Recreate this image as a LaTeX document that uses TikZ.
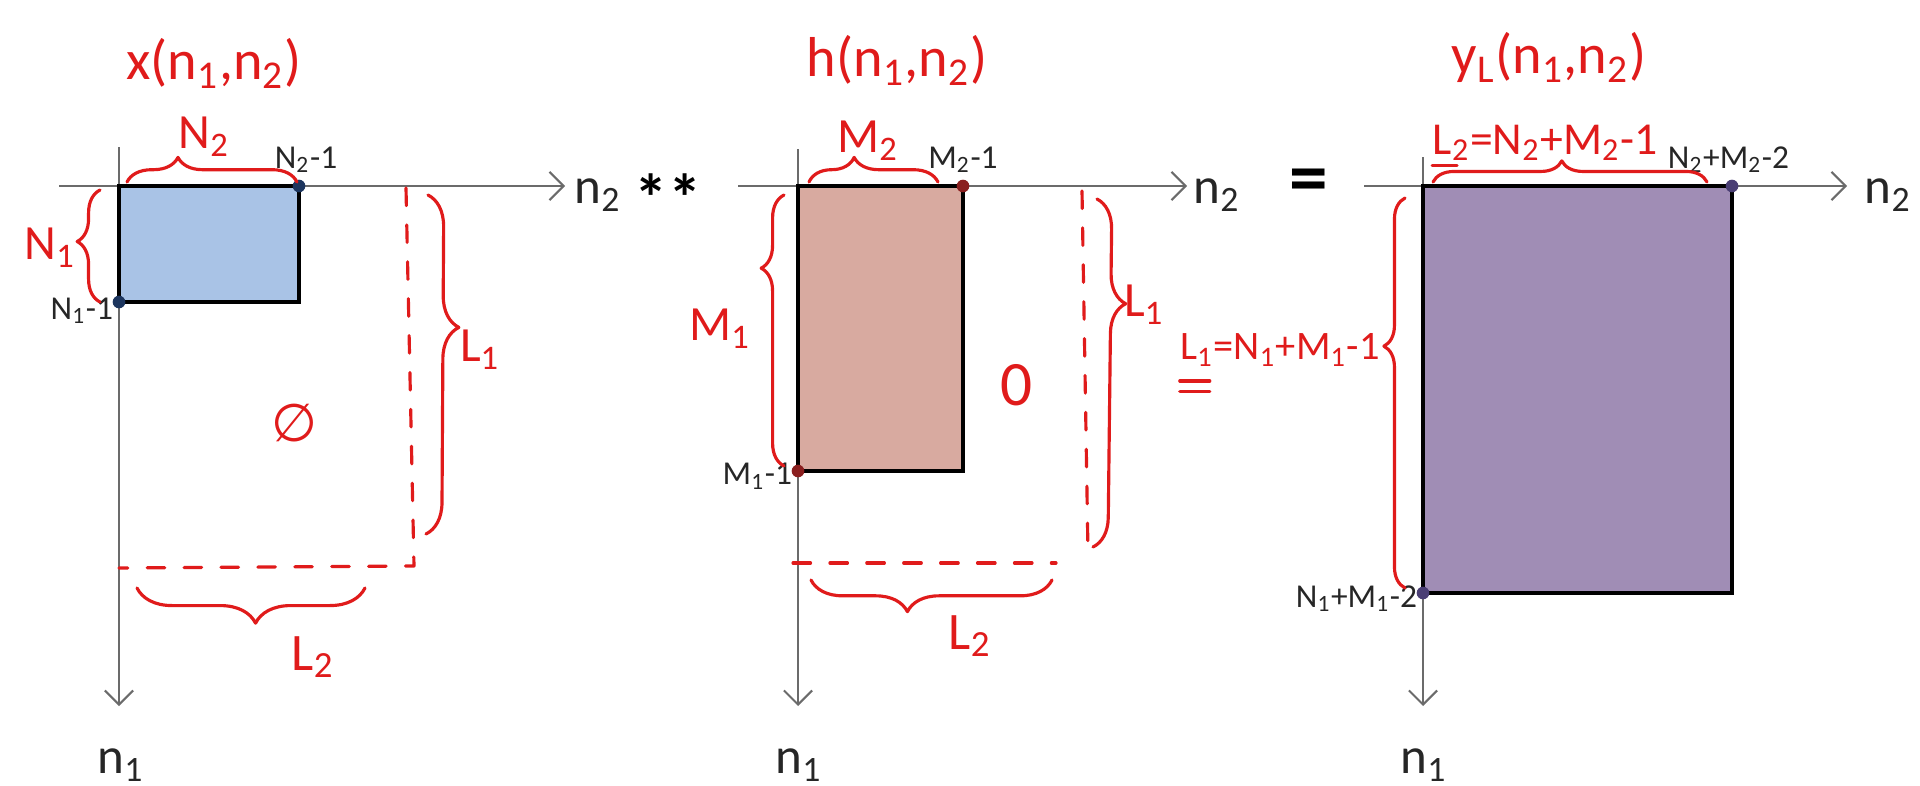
\documentclass[tikz,border=0pt]{standalone}
\usepackage{fontspec}
\setmainfont{Carlito}
\newfontfamily\symfont{DejaVu Sans}
\usetikzlibrary{arrows.meta,positioning,decorations.pathreplacing}
\definecolor{handRed}{HTML}{E01B1B}
\definecolor{axisGray}{HTML}{6B6B6B}
\definecolor{xFill}{HTML}{A9C3E6}
\definecolor{hFill}{HTML}{D8AAA0}
\definecolor{yFill}{HTML}{A08DB5}
\definecolor{xDot}{HTML}{1C355E}
\definecolor{hDot}{HTML}{8A1F1F}
\definecolor{yDot}{HTML}{4A3E74}

\begin{document}
\begin{tikzpicture}[
    x=1cm, y=-1cm,
    axis/.style={draw=axisGray, line width=0.6pt, -{Straight Barb[length=4pt,width=8pt]}},
    sig/.style={draw=black, line width=1.4pt},
    dot/.style={circle, inner sep=0pt, minimum size=3.6pt},
    hand/.style={draw=handRed, line width=0.9pt, line cap=round, line join=round},
    dashline/.style={hand, dash pattern=on 5pt off 5.5pt},
    brc/.style 2 args={hand, decorate, decoration={brace, amplitude=#1, aspect=#2}},
    ink/.style={text=handRed, inner sep=0pt},
    signame/.style={ink, font=\fontsize{16}{18}\selectfont},
    dimname/.style={ink, font=\fontsize{14}{16}\selectfont},
    axlabel/.style={text=black!85, inner sep=0pt, font=\fontsize{14.5}{16}\selectfont},
    ptlabel/.style={text=black!85, inner sep=0.5pt, font=\fontsize{9.5}{11}\selectfont},
    opsign/.style={inner sep=0pt, font=\fontsize{22}{24}\selectfont\bfseries}
]
\useasboundingbox (0,0) rectangle (19.2,7.85);

% first signal x(n1,n2)
\coordinate (xo) at (1.19,1.86);
\coordinate (xh0) at (0.59,1.86);
\coordinate (xh1) at (5.65,1.86);
\coordinate (xv0) at (1.19,1.47);
\coordinate (xv1) at (1.19,7.06);
\draw[axis] (xh0) -- (xh1);
\draw[axis] (xv0) -- (xv1);
\node[axlabel, anchor=west] (xn2) at (5.74,1.95) {n\textsubscript{2}};
\node[axlabel] (xn1) at (1.21,7.65) {n\textsubscript{1}};
\draw[sig, fill=xFill] (xo) rectangle (2.99,3.02);
\node[dot, fill=xDot] (xc2) at (2.99,1.86) {};
\node[dot, fill=xDot] (xc1) at (1.19,3.02) {};
\node[ptlabel, above=1pt of xc2, xshift=2pt] (xc2lab) {N\textsubscript{2}-1};
\node[ptlabel, left=-1pt of xc1, yshift=-2.5pt] (xc1lab) {N\textsubscript{1}-1};

\node[signame] (xname) at (2.14,0.63) {x(n\textsubscript{1},n\textsubscript{2})};
\draw[brc={7pt}{0.3}] (1.27,1.82) -- (2.97,1.82);
\node[dimname] (xN2) at (2.04,1.37) {N\textsubscript{2}};
\draw[brc={6.5pt}{0.54}] (1.00,3.02) -- (1.00,1.90);
\node[dimname] (xN1) at (0.50,2.48) {N\textsubscript{1}};
\draw[dashline] (4.06,1.88) -- (4.14,5.66) -- (1.19,5.68);
\draw[brc={9pt}{0.39}] (4.28,1.95) -- (4.26,5.34);
\node[dimname] (xL1) at (4.80,3.50) {L\textsubscript{1}};
\draw[brc={10pt}{0.48}] (3.65,5.88) -- (1.37,5.88);
\node[dimname, font=\fontsize{15}{17}\selectfont] (xL2) at (3.13,6.57) {L\textsubscript{2}};
\node[ink, font=\symfont\fontsize{15}{17}\selectfont] (xzero) at (2.94,4.23) {∅};

\node[opsign, font=\fontsize{19}{21}\selectfont\bfseries] (conv) at (6.68,1.98) {**};

% second signal h(n1,n2)
\coordinate (ho) at (7.98,1.86);
\coordinate (hh0) at (7.38,1.86);
\coordinate (hh1) at (11.87,1.86);
\coordinate (hv0) at (7.98,1.49);
\coordinate (hv1) at (7.98,7.06);
\draw[axis] (hh0) -- (hh1);
\draw[axis] (hv0) -- (hv1);
\node[axlabel, anchor=west] (hn2) at (11.93,1.95) {n\textsubscript{2}};
\node[axlabel] (hn1) at (7.99,7.65) {n\textsubscript{1}};
\draw[sig, fill=hFill] (ho) rectangle (9.63,4.71);
\node[dot, fill=hDot] (hc2) at (9.63,1.86) {};
\node[dot, fill=hDot] (hc1) at (7.98,4.71) {};
\node[ptlabel, above=1pt of hc2] (hc2lab) {M\textsubscript{2}-1};
\node[ptlabel, left=-1pt of hc1, yshift=-1.5pt] (hc1lab) {M\textsubscript{1}-1};

\node[signame] (hname) at (8.97,0.60) {h(n\textsubscript{1},n\textsubscript{2})};
\draw[brc={7pt}{0.35}] (8.09,1.82) -- (9.38,1.82);
\node[dimname] (hM2) at (8.68,1.41) {M\textsubscript{2}};
\draw[brc={6.5pt}{0.73}] (7.84,4.66) -- (7.84,1.95);
\node[dimname] (hM1) at (7.20,3.29) {M\textsubscript{1}};
\draw[dashline] (10.82,1.91) -- (10.88,5.54);
\draw[dashline] (7.93,5.63) -- (10.56,5.63);
\draw[brc={8.5pt}{0.30}] (10.97,1.99) -- (10.93,5.47);
\node[dimname] (hL1) at (11.44,3.05) {L\textsubscript{1}};
\draw[brc={9pt}{0.60}] (10.52,5.80) -- (8.11,5.80);
\node[dimname, font=\fontsize{15}{17}\selectfont] (hL2) at (9.70,6.36) {L\textsubscript{2}};
\node[ink, font=\fontsize{18}{20}\selectfont] (hzero) at (10.17,3.85) {0};

\node[opsign] (equal) at (13.09,1.86) {=};

% result yL(n1,n2)
\coordinate (yo) at (14.23,1.86);
\coordinate (yh0) at (13.64,1.86);
\coordinate (yh1) at (18.47,1.86);
\coordinate (yv0) at (14.23,1.57);
\coordinate (yv1) at (14.23,7.06);
\draw[axis] (yh0) -- (yh1);
\draw[axis] (yv0) -- (yv1);
\node[axlabel, anchor=west] (yn2) at (18.64,1.95) {n\textsubscript{2}};
\node[axlabel] (yn1) at (14.24,7.65) {n\textsubscript{1}};
\draw[sig, fill=yFill] (yo) rectangle (17.32,5.93);
\node[dot, fill=yDot] (yc2) at (17.32,1.86) {};
\node[dot, fill=yDot] (yc1) at (14.23,5.93) {};
\node[ptlabel, above=1pt of yc2, xshift=-1pt] (yc2lab) {N\textsubscript{2}+M\textsubscript{2}-2};
\node[ptlabel, left=-1pt of yc1, yshift=-1.5pt] (yc1lab) {N\textsubscript{1}+M\textsubscript{1}-2};

\node[signame] (yname) at (15.49,0.57) {y\textsubscript{L}(n\textsubscript{1},n\textsubscript{2})};
\node[ink, font=\fontsize{13}{15}\selectfont] (yL2) at (15.45,1.43) {L\textsubscript{2}=N\textsubscript{2}+M\textsubscript{2}-1};
\draw[hand] ([yshift=-1pt]yL2.south west) -- ++(0.25,0);
\draw[brc={6pt}{0.47}] (14.33,1.82) -- (17.07,1.82);
\node[ink, font=\fontsize{11.5}{13}\selectfont] (yL1) at (12.80,3.50) {L\textsubscript{1}=N\textsubscript{1}+M\textsubscript{1}-1};
\draw[hand] ([yshift=-4pt]yL1.south west) -- ++(0.30,0);
\draw[hand] ([yshift=-7pt]yL1.south west) -- ++(0.30,0);
\draw[brc={6pt}{0.62}] (14.05,5.88) -- (14.05,1.98);

\end{tikzpicture}
\end{document}
